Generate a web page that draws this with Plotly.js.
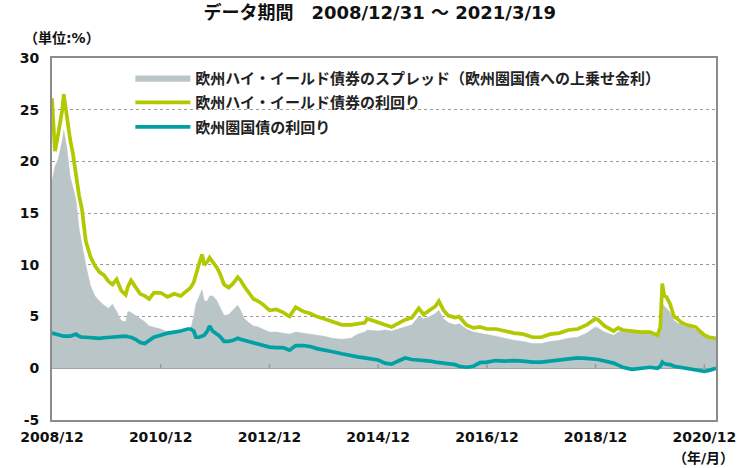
<!DOCTYPE html>
<html>
<head>
<meta charset="utf-8">
<script src="https://cdn.plot.ly/plotly-3.0.1.min.js"></script>
<style>
html,body{margin:0;padding:0;background:#fff;}
#chart{width:749px;height:468px;}
</style>
</head>
<body>
<div id="chart"></div>
<script>
// ---- data ----
const dates = [
 "2008-12-31","2009-01-20","2009-02-10","2009-03-10","2009-03-20","2009-04-10","2009-05-01","2009-05-20","2009-06-10","2009-07-01",
 "2009-07-20","2009-08-15","2009-09-15","2009-10-15","2009-11-15","2009-12-15","2010-01-15","2010-02-10","2010-03-10","2010-04-10",
 "2010-05-10","2010-05-25","2010-06-15","2010-07-15","2010-08-15","2010-09-15","2010-10-15","2010-11-15","2010-12-31","2011-02-15",
 "2011-04-01","2011-05-15","2011-07-01","2011-07-20","2011-08-10","2011-08-25","2011-09-15","2011-10-05","2011-10-20","2011-11-10",
 "2011-11-25","2011-12-15","2012-01-10","2012-02-01","2012-03-01","2012-04-01","2012-05-01","2012-06-01","2012-06-20","2012-07-15",
 "2012-08-15","2012-09-15","2012-10-15","2012-11-15","2012-12-31","2013-02-15","2013-04-01","2013-05-15","2013-06-25","2013-08-15",
 "2013-10-01","2013-11-15","2014-01-01","2014-03-01","2014-05-01","2014-07-01","2014-08-15","2014-10-01","2014-10-20","2014-12-31",
 "2015-02-15","2015-04-01","2015-05-15","2015-07-01","2015-08-15","2015-09-30","2015-11-01","2015-12-15","2016-01-20","2016-02-12",
 "2016-03-15","2016-04-15","2016-06-01","2016-06-27","2016-08-15","2016-10-01","2016-11-15","2016-12-31","2017-03-01","2017-05-01",
 "2017-07-01","2017-09-01","2017-11-01","2018-01-01","2018-03-01","2018-05-01","2018-07-01","2018-09-01","2018-11-01","2018-12-31",
 "2019-01-15","2019-03-01","2019-05-01","2019-06-01","2019-07-01","2019-09-01","2019-11-01","2020-01-01","2020-02-20","2020-03-10",
 "2020-03-23","2020-04-05","2020-04-20","2020-05-15","2020-06-10","2020-07-01","2020-08-01","2020-09-01","2020-10-01","2020-11-01",
 "2020-12-01","2020-12-31","2021-02-01","2021-03-19"
];
// 欧州ハイ・イールド債券の利回り
const hyYield = [
 26.1,21.0,22.6,25.0,26.5,24.0,22.2,20.8,18.5,16.7,
 15.4,12.3,10.8,9.9,9.3,9.0,8.4,8.1,8.6,7.5,
 7.1,7.9,8.5,7.8,7.2,7.0,6.7,7.3,7.3,6.9,
 7.2,7.0,7.5,7.8,8.3,9.2,10.1,11.0,10.0,10.3,
 10.7,10.3,9.8,9.2,8.1,7.8,8.2,8.8,8.5,7.9,
 7.3,6.7,6.5,6.2,5.6,5.7,5.4,5.0,5.9,5.5,
 5.3,5.0,4.8,4.5,4.2,4.2,4.3,4.4,4.8,4.4,
 4.2,4.0,4.3,4.7,4.9,5.8,5.2,5.6,6.0,6.5,
 5.6,5.1,4.9,5.0,4.2,3.9,4.0,3.8,3.8,3.6,
 3.4,3.3,3.0,3.0,3.3,3.4,3.7,3.8,4.2,4.8,
 4.7,4.1,3.6,3.9,3.7,3.6,3.5,3.5,3.2,4.0,
 8.2,7.0,6.9,6.2,5.0,4.8,4.4,4.2,4.1,4.0,
 3.6,3.2,3.0,2.9
];
// 欧州圏国債の利回り
const govYield = [
 3.4,3.3,3.2,3.1,3.1,3.1,3.1,3.2,3.3,3.1,
 3.0,3.0,2.95,2.9,2.9,2.95,3.0,3.0,3.05,3.1,
 3.1,3.05,3.0,2.8,2.5,2.4,2.7,3.0,3.2,3.4,
 3.5,3.6,3.8,3.8,3.6,3.0,3.0,3.1,3.2,3.6,
 4.1,3.6,3.3,3.1,2.6,2.6,2.7,2.9,2.8,2.7,
 2.6,2.4,2.3,2.2,2.05,2.0,2.0,1.75,2.2,2.2,
 2.1,1.9,1.8,1.6,1.4,1.2,1.1,1.0,0.95,0.8,
 0.5,0.4,0.7,1.0,0.85,0.8,0.8,0.7,0.6,0.55,
 0.5,0.5,0.35,0.2,0.1,0.2,0.55,0.6,0.75,0.7,
 0.75,0.7,0.6,0.6,0.7,0.8,0.95,1.0,0.95,0.9,
 0.85,0.7,0.5,0.3,0.1,-0.1,0.0,0.1,0.0,0.2,
 0.6,0.45,0.4,0.35,0.2,0.15,0.05,0.0,-0.1,-0.2,
 -0.25,-0.3,-0.2,0.0
];
// 欧州ハイ・イールド債券のスプレッド
const spread = [
 18.1,19.5,20.2,22.0,23.0,21.3,18.6,17.5,16.3,13.5,
 12.0,10.0,8.0,7.0,6.5,6.1,5.8,6.2,5.5,4.6,
 4.5,5.5,5.4,5.1,4.8,4.5,4.1,4.0,3.8,3.5,
 3.4,3.4,3.6,3.8,5.0,6.2,7.0,7.6,6.5,6.5,
 7.0,7.0,6.6,6.0,5.1,5.2,5.6,6.1,5.6,4.8,
 4.4,4.1,4.0,3.8,3.5,3.5,3.4,3.3,3.5,3.4,
 3.3,3.2,3.1,2.9,2.8,2.9,3.3,3.5,3.7,3.6,
 3.7,3.6,3.8,4.0,4.2,5.0,4.8,5.0,5.3,5.6,
 4.8,4.4,4.2,4.3,3.8,3.5,3.4,3.3,3.1,2.9,
 2.7,2.6,2.4,2.4,2.6,2.7,2.9,3.0,3.4,4.0,
 3.9,3.5,3.2,3.5,3.6,3.6,3.5,3.4,3.2,3.8,
 6.3,6.0,5.8,5.4,4.6,4.4,4.2,4.0,4.0,3.7,
 3.5,3.3,3.1,3.0
];
const seriesNames = [
 "欧州ハイ・イールド債券のスプレッド（欧州圏国債への上乗せ金利）",
 "欧州ハイ・イールド債券の利回り",
 "欧州圏国債の利回り"
];
const xTickVals = ["2008-12-31","2010-12-31","2012-12-31","2014-12-31","2016-12-31","2018-12-31","2020-12-31"];
const xTickText = ["2008/12","2010/12","2012/12","2014/12","2016/12","2018/12","2020/12"];
const yTickVals = [-5,0,5,10,15,20,25,30];
const yTickText = ["-5","0","5","10","15","20","25","30"];
const titleText = "データ期間　2008/12/31 ～ 2021/3/19";
const unitText = "（単位:%）";
const xUnitText = "（年/月）";

// ---- chart ----
const FONT = "DejaVu Sans, Noto Sans CJK JP, sans-serif";
const traces = [
 {x: dates, y: spread, type: "scatter", mode: "lines", fill: "tozeroy",
  fillcolor: "#bac5c8", line: {color: "#bac5c8", width: 0.5},
  name: seriesNames[0], legendgroup: "a"},
 {x: dates, y: hyYield, type: "scatter", mode: "lines",
  line: {color: "#b2c800", width: 3.7}, name: seriesNames[1], legendgroup: "b"},
 {x: dates, y: govYield, type: "scatter", mode: "lines",
  line: {color: "#00a0a3", width: 3.7}, name: seriesNames[2], legendgroup: "c"}
];

const tickShapes = xTickVals.slice(1).map(d => ({
 type: "line", xref: "x", yref: "y", x0: d, x1: d, y0: 0, y1: 0.4,
 line: {color: "#999", width: 1.5}, layer: "above"
}));

const layout = {
 width: 749, height: 468,
 margin: {l: 52, r: 33, t: 58, b: 48},
 paper_bgcolor: "#fff", plot_bgcolor: "#fff",
 font: {family: FONT, color: "#111"},
 title: {text: titleText, font: {family: FONT, size: 18, weight: "bold", color: "#111"},
  x: 0.507, xanchor: "center", y: 0.972, yanchor: "middle"},
 showlegend: true,
 legend: {x: 0.118, y: 0.99, xanchor: "left", yanchor: "top", bgcolor: "rgba(0,0,0,0)",
  font: {family: FONT, size: 15, weight: "bold", color: "#222"},
  traceorder: "grouped", tracegroupgap: 2, itemwidth: 55},
 xaxis: {type: "date", range: ["2008-12-31", "2021-03-19"],
  tickmode: "array", tickvals: xTickVals, ticktext: xTickText,
  showgrid: false, zeroline: false, ticks: "",
  showline: true, mirror: true, linecolor: "#8c8c8c", linewidth: 2,
  tickfont: {family: FONT, size: 14, weight: "bold", color: "#111"},
  ticklabelstandoff: 3, fixedrange: true},
 yaxis: {range: [-5, 30], tickmode: "array", tickvals: yTickVals, ticktext: yTickText,
  showgrid: true, gridcolor: "#9a9a9a", griddash: "dot", gridwidth: 1,
  zeroline: true, zerolinecolor: "#9a9a9a", zerolinewidth: 2,
  showline: true, mirror: true, linecolor: "#8c8c8c", linewidth: 2, ticks: "",
  tickfont: {family: FONT, size: 14, weight: "bold", color: "#111"},
  ticklabelstandoff: 8, fixedrange: true},
 shapes: tickShapes,
 annotations: [
  {text: unitText, xref: "paper", yref: "paper", x: -0.045, y: 1.055, xanchor: "left", yanchor: "middle",
   showarrow: false, font: {family: FONT, size: 14, weight: "bold", color: "#111"}},
  {text: xUnitText, xref: "paper", yref: "paper", x: 1.03, y: -0.105, xanchor: "right", yanchor: "middle",
   showarrow: false, font: {family: FONT, size: 14, weight: "bold", color: "#111"}}
 ]
};

Plotly.newPlot("chart", traces, layout, {displayModeBar: false, staticPlot: true});
</script>
</body>
</html>
